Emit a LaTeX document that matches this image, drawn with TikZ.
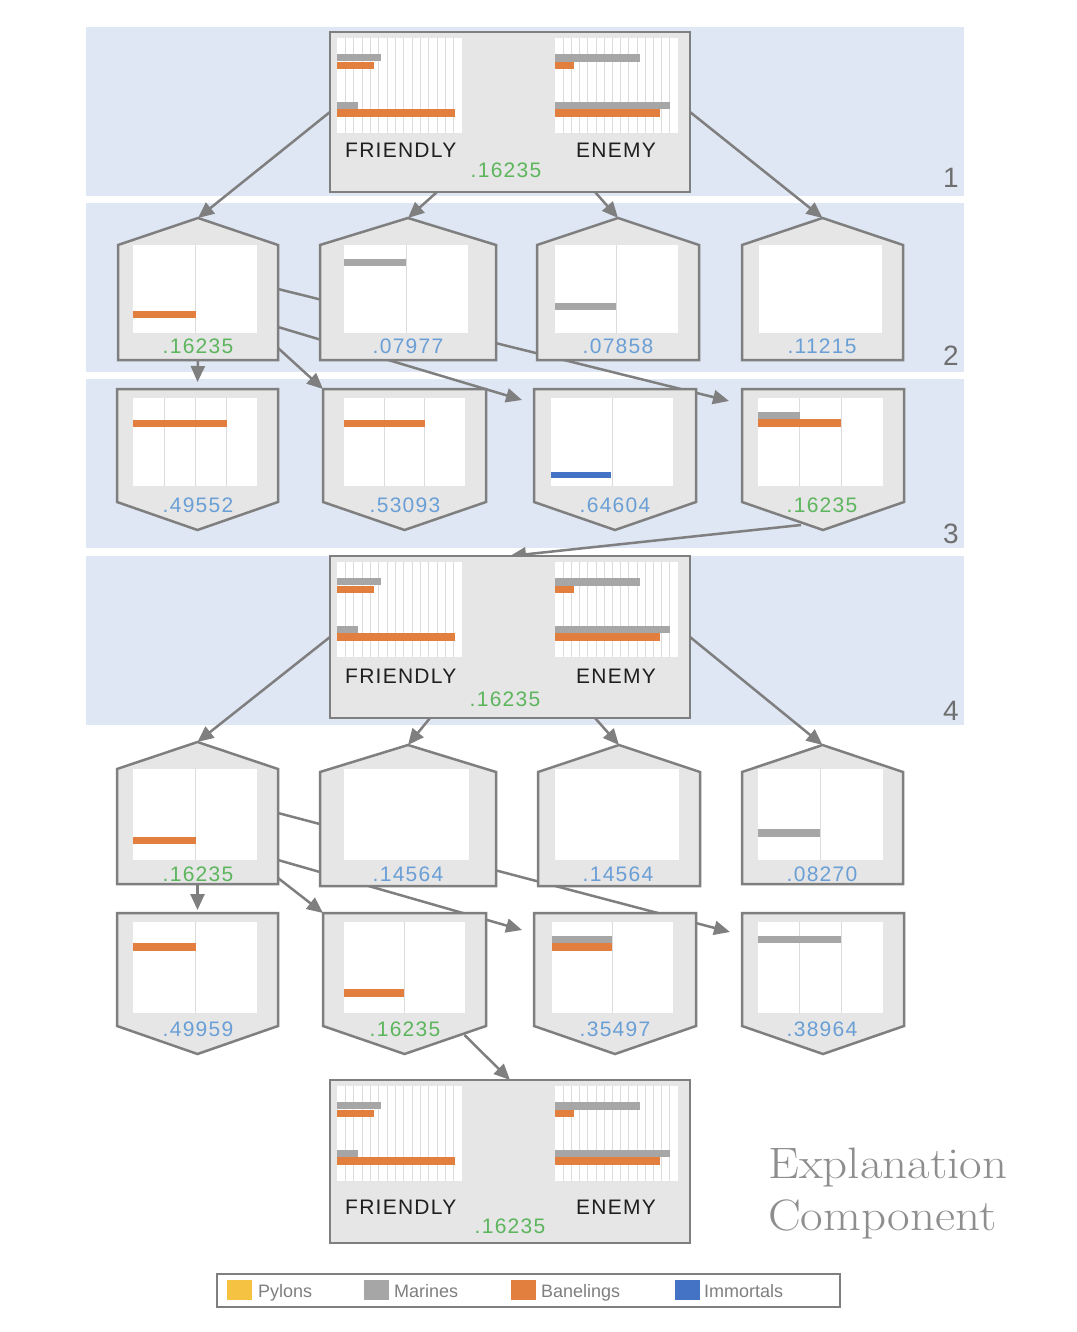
\documentclass[tikz,border=0pt]{standalone}
\usepackage{fontspec}
\setsansfont{Liberation Sans}
\newfontfamily\lblfont[LetterSpace=6]{Liberation Sans}
\usetikzlibrary{arrows.meta,calc}
\pgfdeclarelayer{bands}
\pgfdeclarelayer{edges}
\pgfsetlayers{bands,edges,main}
\definecolor{bandblue}{HTML}{DFE7F4}
\definecolor{boxgray}{HTML}{E6E6E6}
\definecolor{framegray}{HTML}{7F7F7F}
\definecolor{bargray}{HTML}{A6A6A6}
\definecolor{barorange}{HTML}{E27E3E}
\definecolor{barblue}{HTML}{4472C4}
\definecolor{baryellow}{HTML}{F5C242}
\definecolor{valgreen}{HTML}{5DB55D}
\definecolor{valblue}{HTML}{6A9FD6}
\definecolor{gridgray}{HTML}{DCDCDC}
\definecolor{numgray}{HTML}{6F6F6F}
\definecolor{titlegray}{HTML}{8E8E8E}
\tikzset{
  frame/.style={draw=framegray, line width=2.5pt, fill=boxgray},
  conn/.style={draw=framegray, line width=2.5pt, -{Triangle[length=16pt,width=14pt]}},
  anchorbox/.style={draw=none, inner sep=0pt, outer sep=0pt, rectangle},
  gridline/.style={draw=gridgray, line width=1pt},
  vallabel/.style={font=\lblfont\fontsize{21}{21}\selectfont, inner sep=0pt, anchor=base},
  sidelabel/.style={font=\lblfont\fontsize{21}{21}\selectfont, inner sep=0pt, anchor=base west, text=black!88},
  laynum/.style={font=\sffamily\fontsize{28}{28}\selectfont, text=numgray, inner sep=0pt, anchor=base},
  band/.style={fill=bandblue, draw=none},
  legsq/.style={minimum width=25pt, minimum height=20pt, inner sep=0pt, draw=none},
  legtext/.style={font=\sffamily\fontsize{18}{18}\selectfont, text=framegray, inner sep=0pt, anchor=base west},
  titletext/.style={font={\rmfamily\fontsize{44}{44}\selectfont}, text=titlegray, inner sep=0pt, anchor=base west},
}
% chart: x1 y1 x2 y2 ncols
\newcommand{\mkchart}[5]{%
  \fill[white] (#1,#2) rectangle (#3,#4);
  \pgfmathtruncatemacro{\ncm}{#5-1}%
  \ifnum\ncm>0
    \foreach \k in {1,...,\ncm}{\draw[gridline] ({#1+(#3-#1)*\k/#5},#2) -- ({#1+(#3-#1)*\k/#5},#4);}
  \fi
}
\newcommand{\mkbar}[5]{\fill[#1] (#2,#3) rectangle (#4,#5);}
% house: name xl xr apex bottom
\newcommand{\mkhouse}[5]{%
  \node[anchorbox, minimum width={#3-#2}, minimum height={#5-#4}] (#1) at ({(#2+#3)/2},{(#4+#5)/2}) {};
  \path[frame] (#2,#4+27) -- ({(#2+#3)/2},#4) -- (#3,#4+27) -- (#3,#5) -- (#2,#5) -- cycle;
}
% shield: name xl xr top apex
\newcommand{\mkshield}[5]{%
  \node[anchorbox, minimum width={#3-#2}, minimum height={#5-#4}] (#1) at ({(#2+#3)/2},{(#4+#5)/2}) {};
  \path[frame] (#2,#4) -- (#3,#4) -- (#3,#5-28) -- ({(#2+#3)/2},#5) -- (#2,#5-28) -- cycle;
}
% big box: name top bottom textbase greenbase greenx
\newcommand{\mkbig}[6]{%
  \node[anchorbox, minimum width=360, minimum height={#3-#2}] (#1) at (510,{(#2+#3)/2}) {};
  \path[frame] (330,#2) rectangle (690,#3);
  \mkchart{337}{#2+6}{462}{#2+101}{15}
  \mkchart{555}{#2+6}{678}{#2+101}{15}
  \mkbar{bargray}{337}{#2+22}{381}{#2+29}
  \mkbar{barorange}{337}{#2+30}{374}{#2+37}
  \mkbar{bargray}{337}{#2+70}{358}{#2+77}
  \mkbar{barorange}{337}{#2+77}{455}{#2+85}
  \mkbar{bargray}{555}{#2+22}{640}{#2+30}
  \mkbar{barorange}{555}{#2+30}{574}{#2+37}
  \mkbar{bargray}{555}{#2+70}{670}{#2+77}
  \mkbar{barorange}{555}{#2+77}{660}{#2+85}
  \node[sidelabel] (#1-f) at (345,#4) {FRIENDLY};
  \node[sidelabel] (#1-e) at (576,#4) {ENEMY};
  \node[vallabel, text=valgreen] (#1-v) at (#6,#5) {.16235};
}
\begin{document}
\begin{tikzpicture}[x=1pt,y=-1pt]
\useasboundingbox (0,0) rectangle (1076,1332);
\begin{pgfonlayer}{bands}
  \fill[white] (0,0) rectangle (1076,1332);
  \fill[band] (86,27) rectangle (964,196);
  \fill[band] (86,203) rectangle (964,372);
  \fill[band] (86,379) rectangle (964,548);
  \fill[band] (86,556) rectangle (964,725);
\end{pgfonlayer}
\node[laynum] (L1) at (951,188) {1};
\node[laynum] (L2) at (951,365) {2};
\node[laynum] (L3) at (951,543) {3};
\node[laynum] (L4) at (951,720) {4};

% ---- big boxes
\mkbig{b1}{32}{192}{158}{178}{506}
\mkbig{b2}{556}{718}{683}{706}{505}
\mkbig{b3}{1080}{1243}{1214}{1233}{510}

% ---- row 2 (houses)
\mkhouse{h21}{118}{278}{218}{360}
\mkchart{133}{245}{257}{333}{2}
\mkbar{barorange}{133}{311}{196}{318}
\node[vallabel, text=valgreen] (h21v) at (198,353) {.16235};
\mkhouse{h22}{320}{496}{218}{360}
\mkchart{344}{245}{468}{333}{2}
\mkbar{bargray}{344}{259}{406}{266}
\node[vallabel, text=valblue] (h22v) at (408,353) {.07977};
\mkhouse{h23}{537}{699}{218}{360}
\mkchart{555}{245}{678}{333}{2}
\mkbar{bargray}{555}{303}{616}{310}
\node[vallabel, text=valblue] (h23v) at (618,353) {.07858};
\mkhouse{h24}{742}{903}{218}{360}
\mkchart{759}{245}{882}{333}{1}
\node[vallabel, text=valblue] (h24v) at (822,353) {.11215};

% ---- row 3 (shields)
\mkshield{s31}{117}{278}{389}{530}
\mkchart{133}{398}{257}{486}{4}
\mkbar{barorange}{133}{420}{227}{427}
\node[vallabel, text=valblue] (s31v) at (198,512) {.49552};
\mkshield{s32}{323}{486}{389}{530}
\mkchart{344}{398}{465}{486}{3}
\mkbar{barorange}{344}{420}{425}{427}
\node[vallabel, text=valblue] (s32v) at (405,512) {.53093};
\mkshield{s33}{534}{696}{389}{530}
\mkchart{551}{398}{673}{486}{2}
\mkbar{barblue}{551}{472}{611}{478}
\node[vallabel, text=valblue] (s33v) at (615,512) {.64604};
\mkshield{s34}{742}{904}{389}{530}
\mkchart{758}{398}{883}{486}{3}
\mkbar{bargray}{758}{412}{800}{419}
\mkbar{barorange}{758}{419}{841}{427}
\node[vallabel, text=valgreen] (s34v) at (822,512) {.16235};

% ---- row 5 (houses)
\mkhouse{h51}{117}{278}{742}{884}
\mkchart{133}{769}{257}{860}{2}
\mkbar{barorange}{133}{837}{196}{844}
\node[vallabel, text=valgreen] (h51v) at (198,881) {.16235};
\mkhouse{h52}{320}{496}{745}{886}
\mkchart{344}{769}{469}{860}{1}
\node[vallabel, text=valblue] (h52v) at (408,881) {.14564};
\mkhouse{h53}{538}{700}{745}{886}
\mkchart{555}{769}{679}{860}{1}
\node[vallabel, text=valblue] (h53v) at (618,881) {.14564};
\mkhouse{h54}{742}{903}{745}{884}
\mkchart{758}{769}{883}{860}{2}
\mkbar{bargray}{758}{829}{820}{837}
\node[vallabel, text=valblue] (h54v) at (822,881) {.08270};

% ---- row 6 (shields)
\mkshield{s61}{117}{278}{913}{1054}
\mkchart{133}{922}{257}{1013}{2}
\mkbar{barorange}{133}{943}{196}{951}
\node[vallabel, text=valblue] (s61v) at (198,1036) {.49959};
\mkshield{s62}{323}{486}{913}{1054}
\mkchart{344}{922}{465}{1013}{2}
\mkbar{barorange}{344}{989}{404}{997}
\node[vallabel, text=valgreen] (s62v) at (405,1036) {.16235};
\mkshield{s63}{534}{696}{913}{1054}
\mkchart{552}{922}{673}{1013}{2}
\mkbar{bargray}{552}{936}{612}{943}
\mkbar{barorange}{552}{943}{612}{951}
\node[vallabel, text=valblue] (s63v) at (615,1036) {.35497};
\mkshield{s64}{742}{904}{913}{1054}
\mkchart{758}{922}{883}{1013}{3}
\mkbar{bargray}{758}{936}{841}{943}
\node[vallabel, text=valblue] (s64v) at (822,1036) {.38964};

% ---- connectors
\begin{pgfonlayer}{edges}
  \draw[conn] (b1.west) -- (h21.north);
  \draw[conn] ([xshift=-73pt]b1.south) -- (h22.north);
  \draw[conn] ([xshift=85pt]b1.south) -- (h23.north);
  \draw[conn] (b1.east) -- (h24.north);
  \draw[conn] (h21.east) -- ([xshift=-13pt,yshift=-12pt]s34.north west);
  \draw[conn] ([yshift=-38pt]h21.east) -- ([xshift=-12pt,yshift=-11pt]s33.north west);
  \draw[conn] ([yshift=-59pt]h21.east) -- (s32.north west);
  \draw[conn] (h21.south) -- ([yshift=7pt]s31.north);
  \draw[conn] ([xshift=-22pt,yshift=5pt]s34.south) -- (b2.north);
  \draw[conn] (b2.west) -- (h51.north);
  \draw[conn] ([xshift=-80pt]b2.south) -- (h52.north);
  \draw[conn] ([xshift=85pt]b2.south) -- (h53.north);
  \draw[conn] (b2.east) -- (h54.north);
  \draw[conn] (h51.east) -- ([xshift=-12pt,yshift=-19pt]s64.north west);
  \draw[conn] ([yshift=-47pt]h51.east) -- ([xshift=-12pt,yshift=-17pt]s63.north west);
  \draw[conn] ([yshift=-65pt]h51.east) -- (s62.north west);
  \draw[conn] (h51.south) -- ([yshift=3pt]s61.north);
  \draw[conn] ([xshift=60pt,yshift=19pt]s62.south) -- (b3.north);
\end{pgfonlayer}

% ---- title
\node[titletext] (ex1) at (768,1178) {\scalebox{1.115}[1]{Explanation}};
\node[titletext] (ex2) at (768,1230) {\scalebox{1.115}[1]{Component}};

% ---- legend
\node[anchorbox, draw=framegray, line width=2pt, fill=white, minimum width=623, minimum height=33] (legend) at (528.5,1290.5) {};
\node[legsq, fill=baryellow] (sqP) at (239.5,1290) {};
\node[legtext] (tP) at (258,1297) {Pylons};
\node[legsq, fill=bargray] (sqM) at (376.5,1290) {};
\node[legtext] (tM) at (394,1297) {Marines};
\node[legsq, fill=barorange] (sqB) at (523.5,1290) {};
\node[legtext] (tB) at (541,1297) {Banelings};
\node[legsq, fill=barblue] (sqI) at (687.5,1290) {};
\node[legtext] (tI) at (704,1297) {Immortals};
\end{tikzpicture}
\end{document}
